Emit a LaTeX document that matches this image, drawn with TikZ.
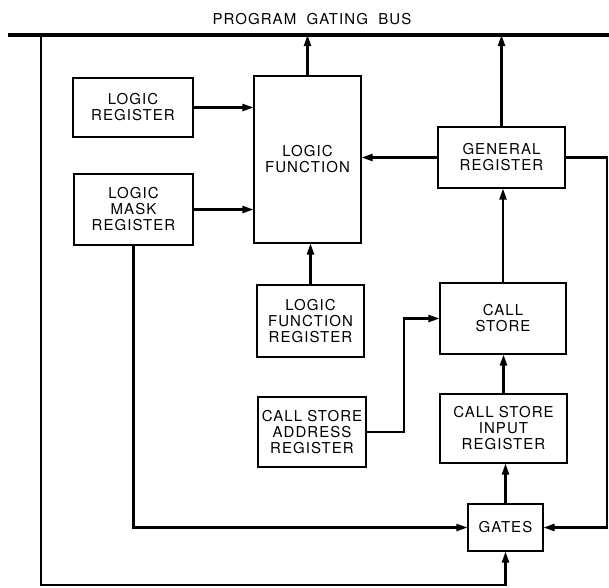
\documentclass[tikz,border=0pt]{standalone}
\usepackage{fontspec}
\setmainfont[LetterSpace=7]{TeX Gyre Heros}
\usetikzlibrary{arrows.meta}
\begin{document}
\begin{tikzpicture}[x=1pt,y=-1pt,
  box/.style={draw,line width=1.1pt,inner sep=0pt,align=center,
    font=\fontsize{15}{16}\selectfont},
  conn/.style={line width=2.2pt},
  arr/.style={conn,-{Triangle[length=11pt,width=7pt]}},
  busline/.style={line width=3.5pt}]
\useasboundingbox (0,0) rectangle (609,587);
% bus
\coordinate (busW) at (8,35);
\coordinate (busE) at (609,35);
\draw[busline] (busW) -- (busE);
\node[font=\fontsize{15}{16}\selectfont] (buslabel) at (312,19) {PROGRAM\ \ GATING\ \ BUS};
% boxes
\node[box,minimum width=120pt,minimum height=59pt] (LR) at (133,107.5) {LOGIC\\REGISTER};
\node[box,minimum width=107pt,minimum height=167pt] (LF) at (307.5,159.5) {LOGIC\\FUNCTION};
\node[box,minimum width=119pt,minimum height=71pt] (LMR) at (133.5,209.5) {LOGIC\\MASK\\REGISTER};
\node[box,minimum width=127pt,minimum height=61pt] (GR) at (501.5,157.5) {GENERAL\\REGISTER};
\node[box,minimum width=107pt,minimum height=72pt] (LFR) at (310.5,321) {LOGIC\\FUNCTION\\REGISTER};
\node[box,minimum width=126pt,minimum height=71pt] (CS) at (503,318.5) {CALL\\STORE};
\node[box,minimum width=108pt,minimum height=70pt] (CSA) at (312,432) {CALL STORE\\ADDRESS\\REGISTER};
\node[box,minimum width=127pt,minimum height=69pt] (CSI) at (503.5,428.5) {CALL STORE\\INPUT\\REGISTER};
\node[box,minimum width=75pt,minimum height=47pt] (GATES) at (505.5,527.5) {GATES};
% coordinates
\coordinate (busL) at (41,35);
\coordinate (botL) at (41,585);
\coordinate (rightT) at (607,157.5);
\coordinate (kink) at (404,318.5);
% connectors
\draw[arr] (LF.north) -- (LF.north |- busW);
\draw[arr] (GR.north) -- (GR.north |- busW);
\draw[arr] (LR.east) -- (LR.east -| LF.west);
\draw[arr] (LMR.east) -- (LMR.east -| LF.west);
\draw[arr] (GR.west) -- (GR.west -| LF.east);
\draw[arr] (LFR.north) -- (LFR.north |- LF.south);
\draw[arr] (CS.north) -- (CS.north |- GR.south);
\draw[arr] (CSI.north) -- (CSI.north |- CS.south);
\draw[arr] (GATES.north) -- (GATES.north |- CSI.south);
\draw[arr] (CSA.east) -| (kink) -- (CS.west);
\draw[arr] (GR.east) -- (rightT) |- (GATES.east);
\draw[arr] (LMR.south) |- (GATES.west);
\draw[arr] (busL) -- (botL) -| (GATES.south);
\end{tikzpicture}
\end{document}
